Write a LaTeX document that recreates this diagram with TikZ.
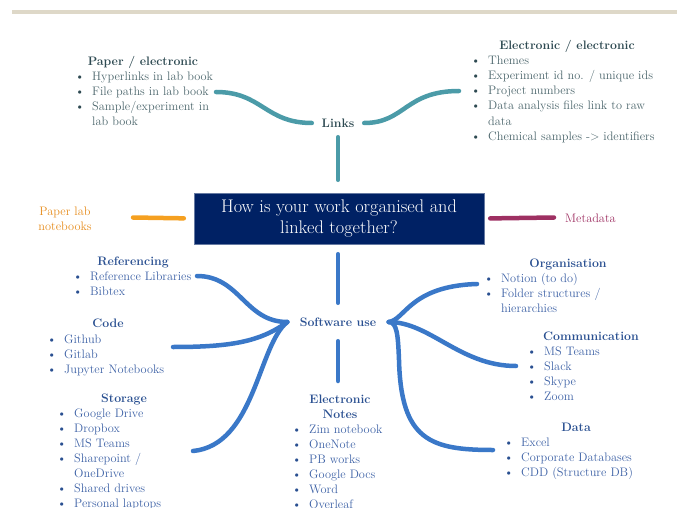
\documentclass[tikz,border=0pt]{standalone}
\usetikzlibrary{calc}
\definecolor{navy}{RGB}{0,33,100}
\definecolor{lkline}{RGB}{75,155,168}
\definecolor{lkhead}{RGB}{46,74,82}
\definecolor{lkitem}{RGB}{76,102,108}
\definecolor{swline}{RGB}{58,120,200}
\definecolor{swhead}{RGB}{42,80,145}
\definecolor{switem}{RGB}{62,98,166}
\definecolor{orline}{RGB}{245,160,32}
\definecolor{ortext}{RGB}{230,140,28}
\definecolor{mdcol}{RGB}{158,48,98}
\definecolor{rulecol}{RGB}{222,216,200}
\colorlet{bul}{black}
\newcommand\itm[1]{\makebox[17pt][l]{\textcolor{bul}{\textbullet}}#1}
\newcommand\cnt[1]{\hspace*{17pt}#1}
\tikzset{
  body/.style={font=\fontsize{12.3}{15}\selectfont, anchor=base west, inner sep=0pt},
  head/.style={font=\fontsize{12.3}{15}\selectfont\bfseries, anchor=base, inner sep=0pt},
  lkit/.style={body, text=lkitem, execute at begin node={\colorlet{bul}{lkhead}}},
  lkhd/.style={head, text=lkhead},
  swit/.style={body, text=switem, execute at begin node={\colorlet{bul}{swhead}}},
  swhd/.style={head, text=swhead},
  conn/.style={line width=4.5pt, line cap=round},
  hub/.style={font=\fontsize{12.3}{15}\selectfont\bfseries, inner sep=0pt},
}
\begin{document}
\begin{tikzpicture}[x=1pt,y=-1pt]
\useasboundingbox (0,0) rectangle (677,508);
\clip (0,0) rectangle (677,508);
% top rule
\fill[rulecol] (12,10.5) rectangle (677,14);

% central question
\node[fill=navy, draw=navy!60, text=white, minimum width=290pt, minimum height=51pt,
      inner sep=0pt, align=center, font=\fontsize{18.3}{21}\selectfont] (q) at (339,218.5)
  {How is your work organised and\\linked together?};

% ---------- Links ----------
\node[hub, text=lkhead, minimum width=52pt, minimum height=24pt] (links) at (338,123) {Links};
\node[lkhd] (pe-h) at (143,66) {Paper / electronic};
\foreach \t [count=\i] in {\itm{Hyperlinks in lab book}, \itm{File paths in lab book}, \itm{Sample/experiment in}, \cnt{lab book}}
  \node[lkit] (pe\i) at (75,{81+15*(\i-1)}) {\t};
\node[lkhd] (ee-h) at (567,50) {Electronic / electronic};
\foreach \t [count=\i] in {\itm{Themes}, \itm{Experiment id no. / unique ids}, \itm{Project numbers}, \itm{Data analysis files link to raw}, \cnt{data}, \itm{Chemical samples -\textgreater{} identifiers}}
  \node[lkit] (ee\i) at (471,{65+15*(\i-1)}) {\t};
\coordinate (pe-c) at (216,92);
\coordinate (ee-c) at (459,91);
\draw[conn, lkline] (links.west) .. controls (265,123) and (262,92) .. (pe-c);
\draw[conn, lkline] (links.east) .. controls (405,123) and (405,91) .. (ee-c);
\draw[conn, lkline, shorten <=2pt, shorten >=13pt] (links.south) -- (links.south |- q.north);

% ---------- Paper lab notebooks / Metadata ----------
\node[font=\fontsize{12.3}{15}\selectfont, text=ortext, anchor=base, inner sep=0pt] (pl1) at (65,215) {Paper lab};
\node[font=\fontsize{12.3}{15}\selectfont, text=ortext, anchor=base, inner sep=0pt] (pl2) at (65,230) {notebooks};
\coordinate (pl-c) at (133,217.5);
\draw[conn, orline, shorten <=10pt] (q.west) -- (pl-c);
\node[font=\fontsize{12.3}{15}\selectfont, text=mdcol, anchor=base west, inner sep=0pt] (md) at (565,222) {Metadata};
\coordinate (md-c) at (554,217.5);
\draw[conn, mdcol, shorten <=6pt] (q.east) -- (md-c);

% ---------- Software use ----------
\node[hub, text=swhead, minimum width=101pt, minimum height=34pt] (sw) at (338,322) {Software use};
\draw[conn, swline, shorten <=10pt, shorten >=2pt] (sw.north |- q.south) -- (sw.north);
\coordinate (sw-d) at (338,381);
\draw[conn, swline, shorten <=2pt] (sw.south) -- (sw-d);

\node[swhd] (ref-h) at (133,265) {Referencing};
\foreach \t [count=\i] in {\itm{Reference Libraries}, \itm{Bibtex}}
  \node[swit] (ref\i) at (73,{280+15*(\i-1)}) {\t};
\node[swhd] (code-h) at (108,327) {Code};
\foreach \t [count=\i] in {\itm{Github}, \itm{Gitlab}, \itm{Jupyter Notebooks}}
  \node[swit] (code\i) at (47,{343+15*(\i-1)}) {\t};
\node[swhd] (st-h) at (124,402) {Storage};
\foreach \t [count=\i] in {\itm{Google Drive}, \itm{Dropbox}, \itm{MS Teams}, \itm{Sharepoint /}, \cnt{OneDrive}, \itm{Shared drives}, \itm{Personal laptops}}
  \node[swit] (st\i) at (57,{417+15*(\i-1)}) {\t};
\node[swhd] (en-h1) at (340,403) {Electronic};
\node[swhd] (en-h2) at (340,418) {Notes};
\foreach \t [count=\i] in {\itm{Zim notebook}, \itm{OneNote}, \itm{PB works}, \itm{Google Docs}, \itm{Word}, \itm{Overleaf}}
  \node[swit] (en\i) at (292,{433+15*(\i-1)}) {\t};
\node[swhd] (org-h) at (568,267) {Organisation};
\foreach \t [count=\i] in {\itm{Notion (to do)}, \itm{Folder structures /}, \cnt{hierarchies}}
  \node[swit] (org\i) at (484,{282+15*(\i-1)}) {\t};
\node[swhd] (com-h) at (591,340) {Communication};
\foreach \t [count=\i] in {\itm{MS Teams}, \itm{Slack}, \itm{Skype}, \itm{Zoom}}
  \node[swit] (com\i) at (527,{355+15*(\i-1)}) {\t};
\node[swhd] (dat-h) at (576,431) {Data};
\foreach \t [count=\i] in {\itm{Excel}, \itm{Corporate Databases}, \itm{CDD (Structure DB)}}
  \node[swit] (dat\i) at (504,{446+15*(\i-1)}) {\t};

\coordinate (ref-c) at (197,276);
\coordinate (code-c) at (173,347);
\coordinate (st-c) at (193,451);
\coordinate (org-c) at (477,284);
\coordinate (com-c) at (516,366);
\coordinate (dat-c) at (493,450);
\draw[conn, swline] (sw.west) .. controls (245,322) and (240,276) .. (ref-c);
\draw[conn, swline] (sw.west) .. controls (260,342) and (230,347) .. (code-c);
\draw[conn, swline] (sw.west) .. controls (258,345) and (255,445) .. (st-c);
\draw[conn, swline] (sw.east) .. controls (405,320) and (410,286) .. (org-c);
\draw[conn, swline] (sw.east) .. controls (430,322) and (460,366) .. (com-c);
\draw[conn, swline] (sw.east) .. controls (397,322) and (398,335) .. (399,360)
                    .. controls (401,440) and (430,450) .. (dat-c);
\end{tikzpicture}
\end{document}
